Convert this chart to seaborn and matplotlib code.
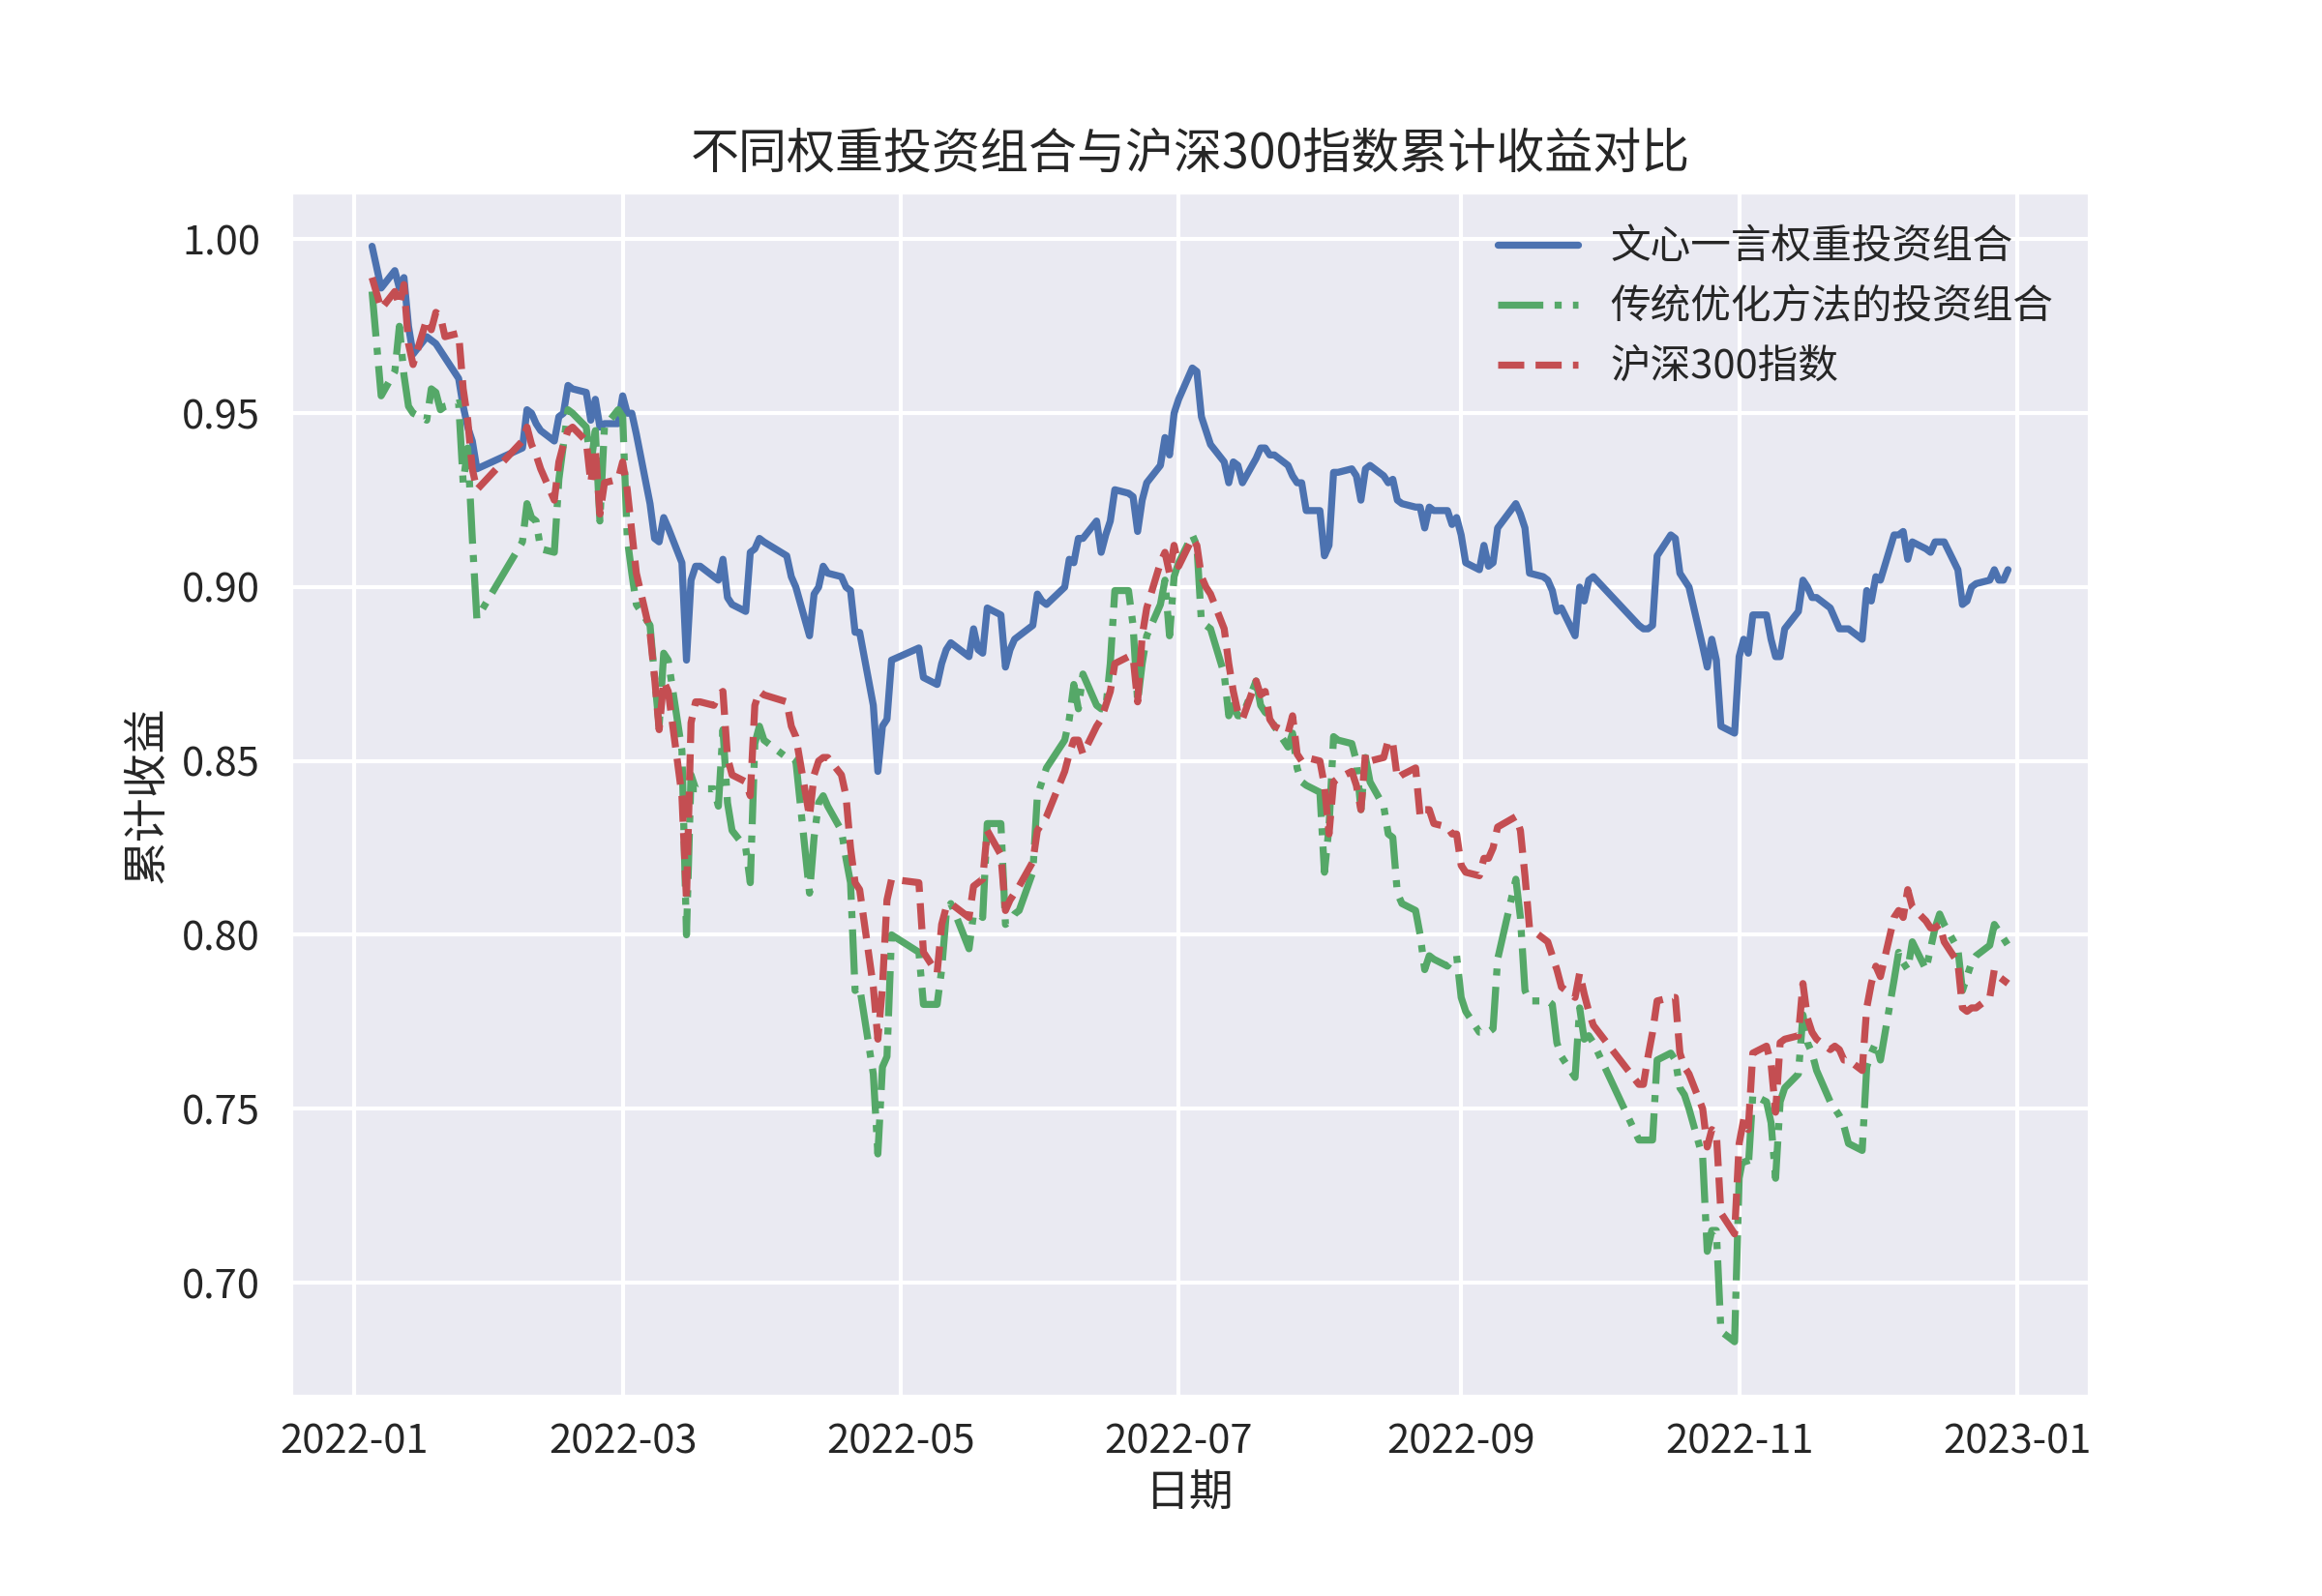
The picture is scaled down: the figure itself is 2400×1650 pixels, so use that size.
import matplotlib
matplotlib.use("Agg")
import matplotlib.pyplot as plt
import matplotlib.dates as mdates
import pandas as pd
import seaborn as sns

# --- 交易日 (2022) ---
trade_dates = (
    ["2022-01-%02d" % d for d in [5, 7, 10, 11, 12, 13, 14, 17, 18, 19, 20, 21, 24, 25, 26, 27, 28]]
    + ["2022-02-%02d" % d for d in [7, 8, 9, 10, 11, 14, 15, 16, 17, 18, 21, 22, 23, 24, 25, 28]]
    + ["2022-03-%02d" % d for d in [1, 2, 3, 4, 7, 8, 9, 10, 11, 14, 15, 16, 17, 18, 21, 22, 23, 24, 25,
                                    28, 29, 30, 31]]
    + ["2022-04-%02d" % d for d in [1, 6, 7, 8, 11, 12, 13, 14, 15, 18, 19, 20, 21, 22, 25, 26, 27, 28, 29]]
    + ["2022-05-%02d" % d for d in [5, 6, 9, 10, 11, 12, 13, 16, 17, 18, 19, 20, 23, 24, 25, 26, 27, 30, 31]]
    + ["2022-06-%02d" % d for d in [1, 2, 6, 7, 8, 9, 10, 13, 14, 15, 16, 17, 20, 21, 22, 23, 24, 27, 28,
                                    29, 30]]
    + ["2022-07-%02d" % d for d in [1, 4, 5, 6, 7, 8, 11, 12, 13, 14, 15, 18, 19, 20, 21, 22, 25, 26, 27,
                                    28, 29]]
    + ["2022-08-%02d" % d for d in [1, 2, 3, 4, 5, 8, 9, 10, 11, 12, 15, 16, 17, 18, 19, 22, 23, 24, 25,
                                    26, 29, 30, 31]]
    + ["2022-09-%02d" % d for d in [1, 2, 5, 6, 7, 8, 9, 13, 14, 15, 16, 19, 20, 21, 22, 23, 26, 27, 28,
                                    29, 30]]
    + ["2022-10-%02d" % d for d in [10, 11, 12, 13, 14, 17, 18, 19, 20, 21, 24, 25, 26, 27, 28, 31]]
    + ["2022-11-%02d" % d for d in [1, 2, 3, 4, 7, 8, 9, 10, 11, 14, 15, 16, 17, 18, 21, 22, 23, 24, 25,
                                    28, 29, 30]]
    + ["2022-12-%02d" % d for d in [1, 2, 5, 6, 7, 8, 9, 12, 13, 14, 15, 16, 19, 20, 21, 22, 23, 26, 27,
                                    28, 29, 30]]
)

# 文心一言权重投资组合
wenxin = [
    0.998, 0.986, 0.991, 0.986, 0.989, 0.975, 0.967, 0.972, 0.971, 0.970, 0.968, 0.966, 0.960, 0.952, 0.946, 0.942, 0.934,
    0.940, 0.951, 0.950, 0.947, 0.945, 0.942, 0.949, 0.950, 0.958, 0.957, 0.956, 0.948, 0.954, 0.946, 0.947, 0.947,
    0.955, 0.950, 0.950, 0.944, 0.924, 0.914, 0.913, 0.920, 0.917, 0.907, 0.879, 0.902, 0.906, 0.906, 0.903, 0.902,
    0.908, 0.897, 0.895, 0.893, 0.910, 0.911, 0.914,
    0.913, 0.909, 0.903, 0.900, 0.886, 0.898, 0.900, 0.906, 0.904, 0.903, 0.900, 0.899, 0.887, 0.887, 0.866, 0.847,
    0.860, 0.862, 0.879,
    0.8825, 0.874, 0.872, 0.878, 0.882, 0.884, 0.883, 0.880, 0.888, 0.882, 0.881, 0.894, 0.892, 0.877, 0.882, 0.885,
    0.886, 0.889, 0.898,
    0.896, 0.895, 0.900, 0.908, 0.907, 0.914, 0.914, 0.919, 0.910, 0.915, 0.919, 0.928, 0.927, 0.926, 0.916, 0.925,
    0.930, 0.935, 0.943, 0.938, 0.950,
    0.954, 0.963, 0.962, 0.949, 0.945, 0.941, 0.936, 0.930, 0.936, 0.935, 0.930, 0.937, 0.940, 0.940, 0.938, 0.938,
    0.935, 0.932, 0.930, 0.930, 0.922,
    0.922, 0.909, 0.912, 0.933, 0.933, 0.934, 0.932, 0.925, 0.934, 0.935, 0.932, 0.930, 0.931, 0.925, 0.924, 0.923,
    0.923, 0.917, 0.923, 0.922, 0.922, 0.918, 0.920,
    0.915, 0.907, 0.905, 0.912, 0.906, 0.907, 0.917, 0.924, 0.921, 0.917, 0.904, 0.903, 0.902, 0.899, 0.893, 0.894,
    0.886, 0.900, 0.896, 0.902, 0.903,
    0.889, 0.888, 0.888, 0.889, 0.909, 0.915, 0.914, 0.904, 0.902, 0.900, 0.883, 0.877, 0.885, 0.879, 0.860, 0.858,
    0.880, 0.885, 0.881, 0.892, 0.892, 0.885, 0.880, 0.880, 0.888, 0.893, 0.902, 0.900, 0.897, 0.897, 0.894, 0.891,
    0.888, 0.888, 0.888, 0.885, 0.899, 0.896,
    0.903, 0.902, 0.915, 0.915, 0.916, 0.908, 0.913, 0.911, 0.910, 0.913, 0.913, 0.913, 0.905, 0.895, 0.896, 0.900,
    0.901, 0.902, 0.905, 0.902, 0.902, 0.905,
]

# 传统优化方法的投资组合
traditional = [
    0.985, 0.955, 0.962, 0.975, 0.961, 0.952, 0.950, 0.948, 0.957, 0.956, 0.951, 0.952, 0.953, 0.930, 0.940, 0.914, 0.891,
    0.913, 0.924, 0.920, 0.919, 0.911, 0.910, 0.931, 0.941, 0.951, 0.950, 0.946, 0.935, 0.945, 0.919, 0.946, 0.951,
    0.949, 0.914, 0.904, 0.895, 0.889, 0.874, 0.860, 0.881, 0.879, 0.853, 0.800, 0.846, 0.842, 0.842, 0.842, 0.837,
    0.859, 0.838, 0.830, 0.825, 0.815, 0.855, 0.860,
    0.856, 0.851, 0.851, 0.850, 0.812, 0.828, 0.838, 0.840, 0.837, 0.830, 0.822, 0.815, 0.784, 0.785, 0.760, 0.737,
    0.762, 0.765, 0.800,
    0.795, 0.780, 0.780, 0.790, 0.806, 0.809, 0.806, 0.796, 0.806, 0.806, 0.805, 0.832, 0.832, 0.803, 0.804, 0.806,
    0.807, 0.818, 0.840,
    0.844, 0.848, 0.856, 0.862, 0.872, 0.865, 0.875, 0.866, 0.865, 0.865, 0.878, 0.899, 0.899, 0.889, 0.867, 0.878,
    0.886, 0.895, 0.902, 0.886, 0.903,
    0.907, 0.915, 0.912, 0.890, 0.889, 0.888, 0.875, 0.863, 0.866, 0.863, 0.863, 0.873, 0.866, 0.864, 0.863, 0.860,
    0.854, 0.858, 0.848, 0.844, 0.843,
    0.841, 0.818, 0.831, 0.857, 0.856, 0.855, 0.850, 0.836, 0.851, 0.844, 0.837, 0.829, 0.828, 0.812, 0.809, 0.807,
    0.800, 0.790, 0.794, 0.793, 0.791, 0.793, 0.794,
    0.782, 0.778, 0.772, 0.772, 0.772, 0.773, 0.793, 0.816, 0.805, 0.784, 0.781, 0.781, 0.781, 0.780, 0.769, 0.765,
    0.759, 0.779, 0.770, 0.771, 0.769,
    0.741, 0.741, 0.741, 0.741, 0.764, 0.766, 0.764, 0.756, 0.754, 0.750, 0.736, 0.709, 0.715, 0.715, 0.686, 0.683,
    0.730, 0.737, 0.733, 0.754, 0.752, 0.746, 0.730, 0.752, 0.756, 0.760, 0.777, 0.769, 0.766, 0.761, 0.752, 0.750,
    0.748, 0.745, 0.740, 0.738, 0.762, 0.766,
    0.769, 0.764, 0.787, 0.795, 0.792, 0.790, 0.798, 0.790, 0.796, 0.802, 0.806, 0.803, 0.796, 0.784, 0.788, 0.792,
    0.794, 0.797, 0.803, 0.801, 0.799, 0.797,
]

# 沪深300指数
hs300 = [
    0.989, 0.980, 0.985, 0.981, 0.987, 0.970, 0.964, 0.977, 0.974, 0.979, 0.978, 0.972, 0.973, 0.957, 0.948, 0.934, 0.928,
    0.942, 0.946, 0.941, 0.938, 0.934, 0.925, 0.936, 0.941, 0.945, 0.946, 0.942, 0.930, 0.940, 0.921, 0.930, 0.931,
    0.936, 0.928, 0.916, 0.904, 0.887, 0.874, 0.859, 0.873, 0.870, 0.840, 0.810, 0.861, 0.867, 0.867, 0.866, 0.869,
    0.870, 0.851, 0.846, 0.844, 0.840, 0.866, 0.870,
    0.869, 0.867, 0.860, 0.857, 0.834, 0.846, 0.850, 0.851, 0.851, 0.846, 0.840, 0.825, 0.815, 0.813, 0.785, 0.770,
    0.785, 0.810, 0.816,
    0.815, 0.795, 0.789, 0.803, 0.808, 0.809, 0.808, 0.805, 0.814, 0.815, 0.816, 0.830, 0.823, 0.807, 0.810, 0.812,
    0.814, 0.821, 0.830,
    0.832, 0.834, 0.847, 0.852, 0.856, 0.856, 0.852, 0.860, 0.862, 0.866, 0.870, 0.878, 0.880, 0.880, 0.867, 0.886,
    0.894, 0.907, 0.910, 0.904, 0.912,
    0.906, 0.914, 0.912, 0.903, 0.900, 0.898, 0.888, 0.878, 0.870, 0.864, 0.862, 0.873, 0.869, 0.870, 0.862, 0.860,
    0.858, 0.863, 0.852, 0.850, 0.851,
    0.850, 0.843, 0.829, 0.844, 0.845, 0.847, 0.843, 0.836, 0.852, 0.850, 0.851, 0.856, 0.855, 0.845, 0.846, 0.848,
    0.834, 0.836, 0.836, 0.832, 0.831, 0.829, 0.829,
    0.820, 0.818, 0.817, 0.822, 0.822, 0.825, 0.831, 0.834, 0.830, 0.817, 0.802, 0.799, 0.798, 0.794, 0.790, 0.785,
    0.782, 0.789, 0.783, 0.778, 0.774,
    0.757, 0.757, 0.765, 0.772, 0.781, 0.782, 0.782, 0.766, 0.762, 0.760, 0.750, 0.739, 0.744, 0.743, 0.720, 0.714,
    0.740, 0.747, 0.744, 0.766, 0.768, 0.763, 0.749, 0.769, 0.770, 0.771, 0.786, 0.776, 0.772, 0.770, 0.767, 0.768,
    0.767, 0.764, 0.764, 0.761, 0.779, 0.786,
    0.791, 0.788, 0.805, 0.807, 0.805, 0.813, 0.808, 0.804, 0.802, 0.802, 0.803, 0.798, 0.792, 0.779, 0.778, 0.779,
    0.779, 0.782, 0.790, 0.788, 0.787, 0.786,
]

assert len(trade_dates) == len(wenxin) == len(traditional) == len(hs300)

dates = pd.to_datetime(trade_dates)

# --- 样式 ---
sns.set_theme(style="darkgrid", palette="deep")
plt.rcParams.update({
    "axes.titlesize": 12,
    "axes.labelsize": 11,
    "xtick.labelsize": 10,
    "ytick.labelsize": 10,
    "legend.fontsize": 10,
    "lines.linewidth": 1.75,
})
plt.rcParams["font.family"] = ["Noto Sans CJK SC", "DejaVu Sans"]
plt.rcParams["axes.unicode_minus"] = False

colors = sns.color_palette("deep")

fig, ax = plt.subplots(figsize=(8, 5.5), dpi=300)
fig.subplots_adjust(left=0.125, right=0.9, top=0.88, bottom=0.125)

sns.lineplot(x=dates, y=wenxin, ax=ax, color=colors[0], linestyle="-",
             label="文心一言权重投资组合", estimator=None)
sns.lineplot(x=dates, y=traditional, ax=ax, color=colors[2], linestyle="-.",
             label="传统优化方法的投资组合", estimator=None)
sns.lineplot(x=dates, y=hs300, ax=ax, color=colors[3], linestyle="--",
             label="沪深300指数", estimator=None)

ax.xaxis.set_major_locator(mdates.MonthLocator(interval=2))
ax.xaxis.set_major_formatter(mdates.DateFormatter("%Y-%m"))
ax.tick_params(axis="x", pad=0.5)
ax.tick_params(axis="y", pad=1.5)

ax.set_title("不同权重投资组合与沪深300指数累计收益对比")
ax.set_xlabel("日期", labelpad=2)
ax.set_ylabel("累计收益", labelpad=3)
ax.legend(loc="upper right", frameon=False)

fig.savefig("out.png", dpi=300)
